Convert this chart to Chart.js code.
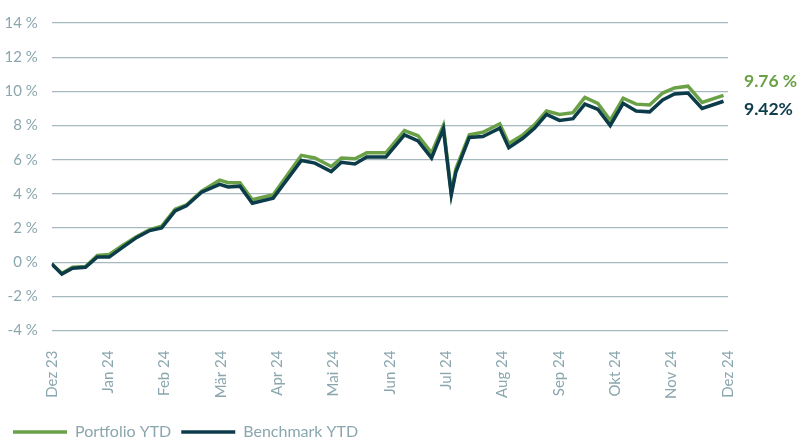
<!DOCTYPE html>
<html>
<head>
<meta charset="utf-8">
<script src="https://cdn.jsdelivr.net/npm/chart.js@4"></script>
<style>
  html, body { margin: 0; padding: 0; background: #ffffff; }
  #wrap { width: 798px; height: 439px; }
</style>
</head>
<body>
<div id="wrap"><canvas id="c" width="798" height="439"></canvas></div>
<script>
// Month tick labels (x = months since Dez 23)
const monthLabels = ["Dez 23","Jan 24","Feb 24","Mär 24","Apr 24","Mai 24","Jun 24","Jul 24","Aug 24","Sep 24","Okt 24","Nov 24","Dez 24"];
// Observation positions in months since Dez 23
const timePos = [0,0.18,0.37,0.6,0.81,1.02,1.27,1.51,1.74,1.95,2.19,2.39,2.66,2.98,3.13,3.34,3.56,3.93,4.43,4.67,4.96,5.14,5.38,5.59,5.93,6.26,6.5,6.74,6.95,7.09,7.17,7.41,7.65,7.95,8.11,8.36,8.57,8.78,9.01,9.25,9.46,9.69,9.91,10.14,10.37,10.61,10.84,11.05,11.29,11.54,11.92];
// Portfolio YTD (%)
const portfolio = [-0.1,-0.65,-0.3,-0.25,0.4,0.45,1.0,1.5,1.9,2.1,3.1,3.35,4.15,4.8,4.65,4.65,3.65,3.95,6.25,6.1,5.6,6.1,6.05,6.4,6.4,7.7,7.4,6.4,8.0,4.05,5.45,7.45,7.6,8.1,6.95,7.45,8.05,8.85,8.65,8.75,9.65,9.3,8.3,9.6,9.25,9.2,9.9,10.2,10.3,9.35,9.76];
// Benchmark YTD (%)
const benchmark = [-0.1,-0.7,-0.35,-0.3,0.3,0.3,0.9,1.45,1.85,2.0,3.0,3.3,4.1,4.55,4.4,4.45,3.45,3.75,5.95,5.8,5.3,5.85,5.75,6.15,6.15,7.45,7.1,6.1,7.8,3.95,5.25,7.3,7.35,7.85,6.7,7.25,7.85,8.65,8.3,8.4,9.25,8.95,8.0,9.3,8.85,8.8,9.5,9.85,9.9,9.0,9.42];
const seriesNames = ["Portfolio YTD","Benchmark YTD"];
const endLabels = ["9.76 %","9.42%"];
const yTicks = [-4,-2,0,2,4,6,8,10,12,14];

const GREEN = "#6aa147";
const DARK = "#0c3b4a";
const TXT = "#8aa6ae";
const GRID = "#a5b9bf";
const FONT = "Lato, 'Open Sans', sans-serif";

const toPts = arr => arr.map((v,i) => ({x: timePos[i], y: v}));

const endLabelPlugin = {
  id: 'endLabels',
  afterDatasetsDraw(chart) {
    const ctx = chart.ctx;
    const ys = chart.scales.y;
    const area = chart.chartArea;
    const gy = ys.getPixelForValue(portfolio[portfolio.length-1]);
    const by = ys.getPixelForValue(benchmark[benchmark.length-1]);
    ctx.save();
    ctx.font = "bold 17.5px " + FONT;
    ctx.textAlign = "left";
    ctx.textBaseline = "middle";
    ctx.fillStyle = GREEN;
    ctx.fillText(endLabels[0], area.right + 16, gy - 14);
    ctx.fillStyle = DARK;
    ctx.fillText(endLabels[1], area.right + 16, by + 8);
    ctx.restore();
  }
};

new Chart(document.getElementById('c'), {
  type: 'line',
  data: {
    datasets: [
      { label: seriesNames[0], data: toPts(portfolio), borderColor: GREEN, backgroundColor: GREEN, borderWidth: 3.5, pointRadius: 0, tension: 0, order: 1 },
      { label: seriesNames[1], data: toPts(benchmark), borderColor: DARK, backgroundColor: DARK, borderWidth: 3.5, pointRadius: 0, tension: 0, order: 0 }
    ]
  },
  options: {
    responsive: false,
    devicePixelRatio: 1,
    animation: false,
    layout: { padding: { left: 3, right: 70, top: 10, bottom: -11 } },
    scales: {
      x: {
        type: 'linear', min: 0, max: 12,
        afterBuildTicks(scale) { scale.ticks = monthLabels.map((_, i) => ({ value: i })); },
        afterFit(scale) { scale.height += 3; },
        ticks: {
          autoSkip: false, minRotation: 90, maxRotation: 90, padding: 12,
          color: TXT, font: { family: FONT, size: 15 },
          callback: (v) => monthLabels[v]
        },
        grid: { display: false },
        border: { display: false }
      },
      y: {
        min: -4, max: 14,
        afterBuildTicks(scale) { scale.ticks = yTicks.map(v => ({ value: v })); },
        afterFit(scale) { scale.width = 48.7; },
        ticks: { padding: 14, color: TXT, font: { family: FONT, size: 15 }, callback: (v) => v + " %" },
        grid: { color: GRID, lineWidth: 1.2, drawTicks: false },
        border: { display: false }
      }
    },
    plugins: {
      legend: {
        position: 'bottom', align: 'start',
        labels: {
          usePointStyle: true, pointStyle: 'line', pointStyleWidth: 54,
          color: TXT, font: { family: FONT, size: 16 }, padding: 10,
          sort: (a, b) => a.datasetIndex - b.datasetIndex
        }
      },
      tooltip: { enabled: false }
    }
  },
  plugins: [endLabelPlugin]
});
</script>
</body>
</html>
